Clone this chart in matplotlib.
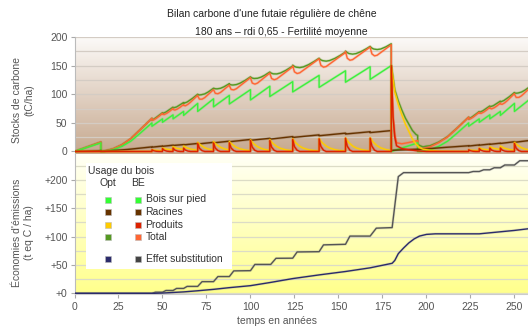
import matplotlib
matplotlib.use('Agg')
import matplotlib.pyplot as plt
import matplotlib.patheffects as pe
import numpy as np
from matplotlib.patches import Rectangle
from matplotlib.ticker import MultipleLocator

plt.rcParams['font.family'] = ['Liberation Sans', 'DejaVu Sans']

# ---------------- data (year, value) ----------------
bois_sur_pied = [(0, 0), (15, 15), (15, 0), (17, 0), (22, 3), (27, 9), (32, 18), (37, 31),
                 (44, 50), (44, 44), (50, 57), (50, 51), (56, 64), (56, 57), (62, 70), (62, 63),
                 (70, 84), (70, 70), (79, 92), (79, 78), (88, 98), (88, 83), (100, 108), (100, 90),
                 (111, 114), (111, 96), (124, 122), (124, 104), (139, 133), (139, 112),
                 (154, 141), (154, 121), (168, 148), (168, 126), (180, 150), (180, 0),
                 (195, 15), (195, 0), (197, 0), (202, 3), (207, 9), (212, 18), (217, 31),
                 (224, 50), (224, 44), (230, 57), (230, 51), (236, 64), (236, 57), (242, 70), (242, 63),
                 (250, 84), (250, 70), (258, 89.5)]

racines = [(0, 0), (15, 1.5), (15, 0.5), (20, 1.2), (30, 3.5), (44, 8), (44, 7.5), (50, 9.5), (50, 9),
           (56, 11), (56, 10.5), (62, 12), (62, 11.5), (70, 14), (70, 13), (79, 16), (79, 15),
           (88, 18), (88, 17), (100, 21), (100, 19.5), (111, 23), (111, 21.5), (124, 26), (124, 24.5),
           (139, 29), (139, 27.5), (154, 32), (154, 30.5), (168, 34.5), (168, 33), (180, 36.5), (180, 2),
           (195, 4), (195, 3.5), (200, 4.5), (210, 7), (224, 10), (224, 9.5), (230, 11.5), (230, 11),
           (236, 13), (236, 12.5), (242, 14.5), (242, 14), (250, 17), (250, 16), (258, 19)]

produits_be = [(0, 0),
               (44, 0), (44, 3), (45, 1.2), (46.5, 0.3), (48, 0),
               (50, 0), (50, 5), (51, 2), (52.5, 0.5), (54, 0),
               (56, 0), (56, 6), (57, 2.4), (58.5, 0.6), (60, 0),
               (62, 0), (62, 6), (63, 2.4), (64.5, 0.6), (66, 0),
               (70, 0), (70, 14), (71, 5.6), (72.5, 1.4), (74, 0),
               (79, 0), (79, 15), (80, 6), (81.5, 1.5), (83, 0),
               (88, 0), (88, 15), (89, 6), (90.5, 1.5), (92, 0),
               (100, 0), (100, 19), (101, 7.6), (102.5, 1.9), (104, 0),
               (111, 0), (111, 19), (112, 7.6), (113.5, 1.9), (115, 0),
               (124, 0), (124, 21), (125, 8.4), (126.5, 2.1), (128, 0),
               (139, 0), (139, 22), (140, 8.8), (141.5, 2.2), (143, 0),
               (154, 0), (154, 23), (155, 9.2), (156.5, 2.3), (158, 0),
               (168, 0), (168, 23), (169, 9.2), (170.5, 2.3), (172, 0),
               (180, 0), (180, 150), (181, 60), (182, 25), (183, 10), (186, 5), (190, 3), (195, 1), (200, 0),
               (224, 0), (224, 3), (225, 1.2), (226.5, 0.3), (228, 0),
               (230, 0), (230, 5), (231, 2), (232.5, 0.5), (234, 0),
               (236, 0), (236, 6), (237, 2.4), (238.5, 0.6), (240, 0),
               (242, 0), (242, 6), (243, 2.4), (244.5, 0.6), (246, 0),
               (250, 0), (250, 14), (251, 5.6), (252.5, 1.4), (254, 0), (258, 0)]

produits_opt = [(0, 0), (44, 0), (44, 3), (46, 2), (50, 1.2), (50, 6.2), (52, 4), (56, 2.5), (56, 8.5),
                (58, 5.5), (62, 3.5), (62, 9.5), (64, 6), (67, 3.5), (70, 2), (70, 16), (71, 13), (72, 10.5),
                (74, 6.5), (76, 4.3), (79, 2.5), (79, 17.5), (80, 14), (81, 11.3), (83, 7.2), (85, 4.7),
                (88, 2.5), (88, 17.5), (89, 14), (90, 11.3), (92, 7.2), (94, 4.7), (97, 2.5), (100, 1.4),
                (100, 20.4), (101, 16.3), (102, 13), (104, 8.4), (106, 5.4), (108, 3.5), (111, 1.9),
                (111, 20.9), (112, 16.7), (113, 13.4), (115, 8.6), (117, 5.5), (120, 2.9), (124, 1.3),
                (124, 22.3), (125, 17.8), (126, 14.3), (128, 9.1), (130, 5.8), (133, 3.1), (136, 1.7), (139, 0.9),
                (139, 22.9), (140, 18.3), (141, 14.7), (143, 9.4), (145, 6), (148, 3.1), (151, 1.6), (154, 0.8),
                (154, 23.8), (155, 19), (156, 15.2), (158, 9.7), (160, 6.2), (163, 3.3), (166, 1.7), (168, 1.1),
                (168, 24.1), (169, 19.3), (170, 15.4), (172, 9.9), (174, 6.3), (177, 3.3), (180, 1.7),
                (180, 150), (182, 104), (184, 82), (186, 64), (188, 48), (190, 35), (192, 22), (194, 13),
                (196, 7), (198, 4), (202, 2), (208, 0.5), (224, 0), (224, 3), (226, 2), (230, 1.2), (230, 6.2),
                (232, 4), (236, 2.5), (236, 8.5), (238, 5.5), (242, 3.5), (242, 9.5), (244, 6), (247, 3.5),
                (250, 2), (250, 16), (251, 13), (252, 10.5), (254, 6.5), (256, 4.3), (258, 3)]

total_be = [(0, 0), (15, 16.5), (15, 0.5), (17, 0.8), (22, 4.7), (27, 11.8), (32, 22.5), (37, 37.1),
            (44, 58), (44, 54.5), (45, 55.2), (46.5, 58), (48, 61.5),
            (50, 66.5), (50, 65), (51, 64.5), (52.5, 66.8), (54, 70),
            (56, 75), (56, 73.5), (57, 72.3), (58.5, 74.2), (60, 77.2),
            (62, 82), (62, 80.5), (63, 79.8), (64.5, 82.5), (66, 86.3),
            (70, 98), (70, 97), (71, 91.4), (72.5, 91.4), (74, 94.1),
            (79, 108), (80, 101.6), (81.5, 100.9), (83, 103.2),
            (88, 116), (88, 115), (89, 108.4), (90.5, 107.6), (92, 109.7),
            (100, 129), (100, 128.5), (101, 119.6), (102.5, 117.7), (104, 119.5),
            (111, 137), (111, 136.5), (112, 127.5), (113.5, 125.3), (115, 126.9),
            (124, 148), (124, 149.5), (125, 139.1), (126.5, 136.2), (128, 137.4),
            (139, 162), (139, 161.5), (140, 150.5), (141.5, 147.3), (143, 148.4),
            (154, 173), (154, 174.5), (155, 162.9), (156.5, 159.4), (158, 160.4),
            (168, 182.5), (168, 182), (169, 170.5), (170.5, 167), (172, 168.2),
            (180, 186.5), (180, 152), (181, 63), (182, 29), (183, 15.2), (186, 13.4), (190, 15.7),
            (195, 19), (195, 4.5), (197, 4.5), (200, 6.3), (202, 8), (207, 15.5), (212, 25.5), (217, 39.5),
            (224, 60), (224, 56.5), (225, 57.2), (226.5, 60), (228, 63.5),
            (230, 68.5), (230, 67), (231, 66.5), (232.5, 68.8), (234, 72),
            (236, 77), (236, 75.5), (237, 74.4), (238.5, 76.4), (240, 79.5),
            (242, 84.5), (242, 83), (243, 82.4), (244.5, 85.1), (246, 89),
            (250, 101), (250, 100), (251, 94.4), (252.5, 94.5), (254, 97.3), (258, 108.6)]

total_opt = [(0, 0), (15, 16.5), (15, 0.5), (17, 0.8), (22, 4.7), (27, 11.8), (32, 22.5), (37, 37.1),
             (44, 58), (44, 54.5), (46, 58.5), (50, 67.7), (50, 66.2), (52, 69), (56, 77.5),
             (56, 76), (58, 77.8), (62, 85.5), (62, 84), (64, 86.4), (67, 92.7), (70, 100),
             (70, 99), (71, 98.8), (72, 99.1), (74, 100.6), (76, 104), (79, 110.5),
             (80, 109.6), (81, 109.4), (83, 110.4), (85, 113.1), (88, 118.5),
             (88, 117.5), (89, 116.4), (90, 116.1), (92, 116.9), (94, 119.2), (97, 124.3), (100, 130.4),
             (100, 129.9), (101, 128.3), (102, 127.5), (104, 127.9), (106, 129.9), (108, 133), (111, 138.9),
             (111, 138.4), (112, 136.6), (113, 135.6), (115, 135.5), (117, 137.1), (120, 141.6), (124, 149.3),
             (124, 150.8), (125, 148.5), (126, 147.3), (128, 146.5), (130, 147.7), (133, 151.7), (136, 157), (139, 162.9),
             (139, 162.4), (140, 160), (141, 158.7), (143, 157.8), (145, 158.9), (148, 162.7), (151, 167.9), (154, 173.8),
             (154, 175.3), (155, 172.7), (156, 171.1), (158, 170.1), (160, 171), (163, 174.8), (166, 179.8), (168, 183.6),
             (168, 183.1), (169, 180.6), (170, 179), (172, 178.1), (174, 179), (177, 182.9), (180, 188.2),
             (180, 152), (182, 108), (184, 88.3), (186, 72.4), (188, 58.5), (190, 47.7), (192, 36.8), (194, 29.9),
             (195, 28), (195, 13.5), (196, 10.6), (198, 8), (200, 9.3), (202, 10), (207, 16.5), (212, 26), (217, 39.8),
             (224, 60), (224, 56.5), (226, 60.5), (230, 69.7), (230, 68.2), (232, 71), (236, 79.5),
             (236, 78), (238, 80), (242, 88), (242, 86.5), (244, 89), (247, 95.5), (250, 103),
             (250, 102), (251, 101.8), (252, 102.1), (254, 103.8), (256, 107.2), (258, 111.6)]

substitution_be = [(0, 0), (44, 0), (46, 2), (50, 2), (52, 5), (56, 5), (58, 8.6), (62, 8.6), (64, 12.2),
                   (70, 12.2), (72.5, 20.6), (79, 20.6), (81.5, 29.6), (88, 29.6), (90.5, 39.6), (100, 40),
                   (102.5, 51), (111.5, 51), (114.5, 61.8), (124, 62), (126.5, 73), (139, 73.5), (141.5, 85.5),
                   (154, 86.5), (156.5, 101), (168, 101), (171.5, 115), (180.5, 116), (184, 206), (187, 213),
                   (224, 213), (226.5, 215), (230, 215), (232.5, 218), (236, 218), (238.5, 221.6), (242, 221.6),
                   (244.5, 226.5), (250, 226.5), (253, 234), (258, 234)]

substitution_opt = [(0, 0), (45, 0), (50, 0.5), (56, 1.5), (62, 2.5), (70, 4.5), (79, 7), (88, 10),
                    (100, 13.5), (111, 19), (124, 26), (139, 32.5), (154, 38.5), (168, 45), (180.5, 53),
                    (182, 58), (184, 70), (187, 80), (190, 89), (193, 96), (196, 101), (200, 104), (205, 105),
                    (230, 105), (240, 108), (250, 111), (258, 114)]

x_ticks = [0, 25, 50, 75, 100, 125, 150, 175, 200, 225, 250]
stock_ticks = [0, 50, 100, 150, 200]
eco_ticks = [0, 50, 100, 150, 200]
eco_labels = ['+0', '+50', '+100', '+150', '+200']

legend_rows = ['Bois sur pied', 'Racines', 'Produits', 'Total', 'Effet substitution']
opt_colors = ['#33ff33', '#663300', '#ffcc00', '#559922', '#2b2b6b']
be_colors = ['#33ff33', '#663300', '#dd2200', '#ff6633', '#444444']

# ---------------- figure ----------------
W, H = 528, 328
fig = plt.figure(figsize=(W / 100, H / 100), dpi=100)


def fx(px):
    return px / W


def fy(py):
    return 1 - py / H


L = 74.5
ax1 = fig.add_axes([fx(L), fy(154), 1 - fx(L), (154 - 37) / H])
ax2 = fig.add_axes([fx(L), fy(294), 1 - fx(L), (294 - 154) / H])


def gradient(ax, top, bottom):
    c = np.linspace(0, 1, 256)[:, None, None]
    t = np.array(top, float)[None, None, :] / 255
    b = np.array(bottom, float)[None, None, :] / 255
    img = t * (1 - c) + b * c
    ax.imshow(img, extent=[0, 1, 0, 1], transform=ax.transAxes, aspect='auto',
              zorder=0, interpolation='bilinear')


gradient(ax1, (252, 250, 248), (198, 168, 142))
gradient(ax2, (255, 255, 246), (255, 255, 140))


def xy(series):
    a = np.array(series, float)
    return a[:, 0], a[:, 1]


def halo(col, w):
    return [pe.Stroke(linewidth=w, foreground=col, alpha=0.22), pe.Normal()]


lw = 1.0
for series, col, z in [(total_opt, '#559922', 3), (total_be, '#ff6633', 4), (bois_sur_pied, '#3cf03c', 5),
                       (racines, '#663300', 6), (produits_opt, '#ffcc00', 7), (produits_be, '#dd2200', 8)]:
    t, v = xy(series)
    ax1.plot(t, v, color=col, lw=lw, zorder=z, path_effects=halo(col, 2.0))

for series, col, z in [(substitution_be, '#555555', 4), (substitution_opt, '#2b2b6b', 5)]:
    t, v = xy(series)
    ax2.plot(t, v, color=col, lw=1.0, zorder=z, path_effects=halo('#888888', 2.0))

xmax = 257.7
for ax in (ax1, ax2):
    ax.set_xlim(0, xmax)
    for s in ('top', 'right', 'bottom'):
        ax.spines[s].set_visible(False)
    ax.spines['left'].set_color('#bbbbbb')
    ax.yaxis.set_minor_locator(MultipleLocator(25))
    ax.tick_params(axis='y', which='major', length=3, color='#aaaaaa', labelsize=7.5,
                   labelcolor='#555555', pad=2)
    ax.tick_params(axis='y', which='minor', length=0)
    ax.set_axisbelow(True)

ax1.set_ylim(-4.4, 200)
ax1.set_yticks(stock_ticks)
ax1.set_xticks([])
ax1.grid(axis='y', which='both', color='#d4ccc4', lw=0.9, zorder=1)

ax2.set_ylim(-1.2, 245.9)
ax2.set_yticks(eco_ticks)
ax2.set_yticklabels(eco_labels)
ax2.grid(axis='y', which='both', color='#dcdcc6', lw=0.9, zorder=1)
ax2.spines['bottom'].set_visible(True)
ax2.spines['bottom'].set_color('#cccccc')
ax2.set_xticks(x_ticks)
ax2.tick_params(axis='x', length=3, color='#aaaaaa', labelsize=7.5, labelcolor='#555555', pad=3)

# titles & labels
fig.text(fx(272), fy(14), "Bilan carbone d'une futaie régulière de chêne", ha='center', va='center',
         fontsize=7.5, color='#222222')
fig.text(fx(281), fy(32), "180 ans – rdi 0,65 - Fertilité moyenne", ha='center', va='center',
         fontsize=7.5, color='#222222')
fig.text(fx(23), fy(100), "Stocks de carbone\n(tC/ha)", rotation=90, ha='center', va='center',
         multialignment='center', fontsize=7.5, color='#555555', linespacing=1.3)
fig.text(fx(23), fy(233), "Économies d'émissions\n(t eq C / ha)", rotation=90, ha='center', va='center',
         multialignment='center', fontsize=7.5, color='#555555', linespacing=1.3)
fig.text(fx(277), fy(321), "temps en années", ha='center', va='center', fontsize=7.5, color='#555555')

# legend box
lx0, ly0, lx1, ly1 = 86, 163, 232, 269
fig.add_artist(Rectangle((fx(lx0), fy(ly1)), fx(lx1 - lx0), (ly1 - ly0) / H, transform=fig.transFigure,
                         facecolor='white', edgecolor='none', zorder=10))
fig.text(fx(88), fy(171), 'Usage du bois', ha='left', va='center', fontsize=7.5, color='#333333', zorder=11)
fig.text(fx(107.7), fy(183), 'Opt', ha='center', va='center', fontsize=7.5, color='#333333', zorder=11)
fig.text(fx(137.7), fy(183), 'BE', ha='center', va='center', fontsize=7.5, color='#333333', zorder=11)
row_y = [199.5, 212, 225, 236.5, 259]
sq = 6
for ry, lab, co, cb in zip(row_y, legend_rows, opt_colors, be_colors):
    for cx, c in ((107.7, co), (137.7, cb)):
        fig.add_artist(Rectangle((fx(cx - sq / 2), fy(ry + sq / 2)), sq / W, sq / H, transform=fig.transFigure,
                                 facecolor=c, edgecolor='#bbbbbb', lw=0.4, zorder=11))
    fig.text(fx(145.5), fy(ry), lab, ha='left', va='center', fontsize=7.5, color='#333333', zorder=11)

fig.savefig('out.png', dpi=100)
